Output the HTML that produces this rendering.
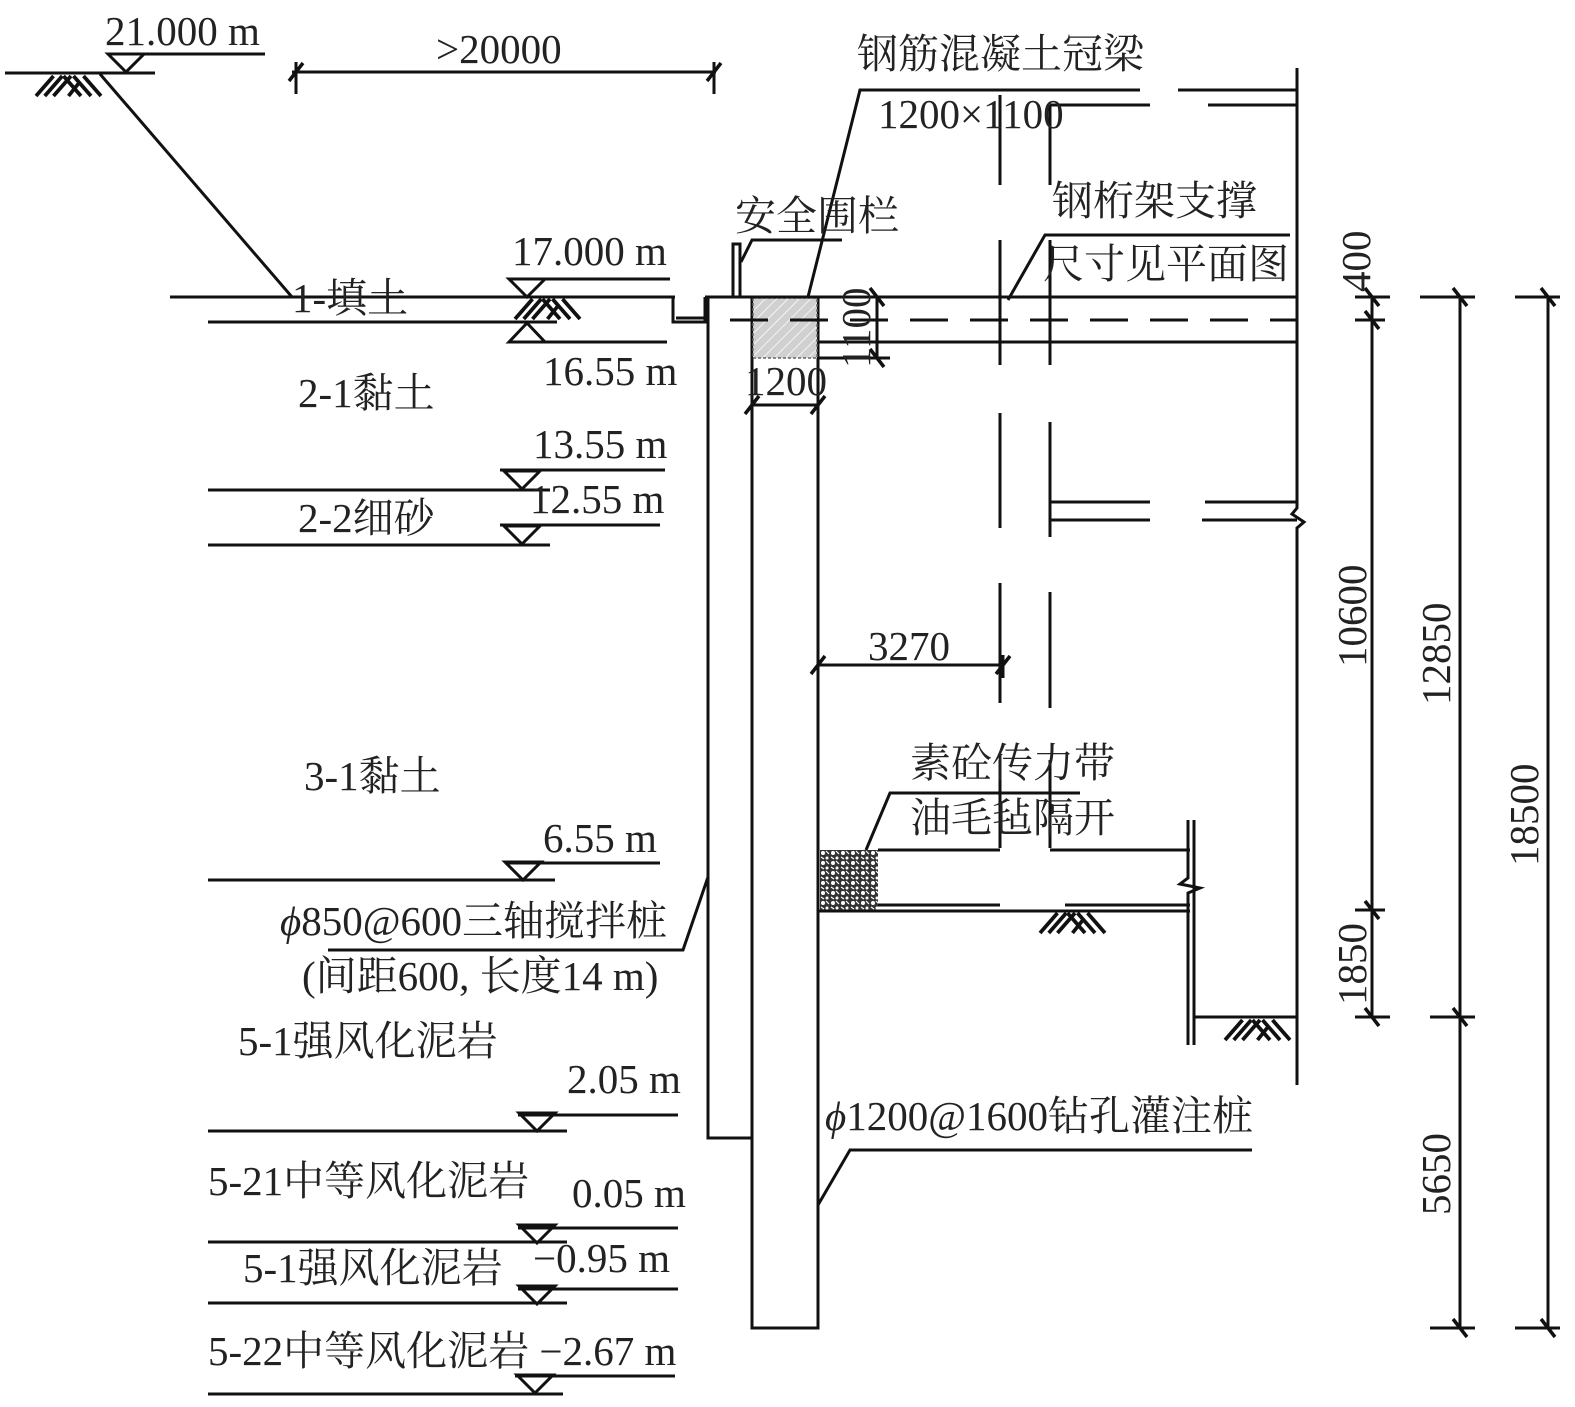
<!DOCTYPE html>
<html><head><meta charset="utf-8"><style>
html,body{margin:0;padding:0;background:#fff}
svg{display:block}
text{font-family:"Liberation Serif","Noto Serif CJK SC","Noto Sans CJK SC",serif;font-size:41px;fill:#222}
</style></head><body>
<svg width="1575" height="1407" viewBox="0 0 1575 1407" xmlns="http://www.w3.org/2000/svg">
<defs>
<pattern id="hx" width="8" height="8" patternUnits="userSpaceOnUse" patternTransform="rotate(45)">
<rect width="8" height="8" fill="#d0d0d0"/><line x1="0" y1="0" x2="0" y2="8" stroke="#f4f4f4" stroke-width="2"/></pattern>
<pattern id="cc" width="10" height="10" patternUnits="userSpaceOnUse">
<rect width="10" height="10" fill="#333"/><circle cx="3" cy="3" r="2" fill="#fff"/><circle cx="7" cy="8" r="1.5" fill="#fff"/><path d="M6 1 L9 4 M1 7 L4 9" stroke="#fff" stroke-width="1.2"/></pattern>
<g id="tk"><line x1="-7" y1="9" x2="7" y2="-9" stroke="#111" stroke-width="3.5"/></g>
<g id="tv"><line x1="-7" y1="-9" x2="7" y2="9" stroke="#111" stroke-width="3.5"/></g>
<g id="hatch" stroke="#111" stroke-width="3" fill="none" transform="scale(1.25)"><path d="M0 16 L14 0 M7 16 L21 0 M14 16 L28 0 M22 0 L36 16 M30 0 L44 16 M38 0 L52 16 M26 16 L34 6"/></g>
<g id="tri" stroke="#111" stroke-width="3" fill="none"><path d="M-18 -18 L18 -18 L0 0 Z"/></g>
</defs>
<g stroke="#111" stroke-width="3" fill="none">
<line x1="5" y1="73" x2="155" y2="73"/>
<use href="#hatch" x="36" y="76"/>
<use href="#tri" x="126" y="72"/>
<line x1="108" y1="54" x2="265" y2="54"/>
<line x1="100" y1="74" x2="292" y2="297"/>
<line x1="292" y1="72" x2="716" y2="72"/>
<line x1="296" y1="62" x2="296" y2="94"/>
<line x1="714" y1="62" x2="714" y2="94"/>
<line x1="170" y1="297" x2="675" y2="297"/>
<line x1="208" y1="322" x2="557" y2="322"/>
<use href="#tri" x="527" y="297"/>
<line x1="509" y1="279" x2="670" y2="279"/>
<use href="#hatch" x="515" y="299"/>
<path d="M509 342 L545 342 L527 323 Z"/>
<line x1="509" y1="342" x2="667" y2="342"/>
<line x1="500" y1="470" x2="665" y2="470"/><use href="#tri" x="522" y="489"/>
<line x1="208" y1="490" x2="550" y2="490"/>
<line x1="500" y1="525" x2="660" y2="525"/><use href="#tri" x="522" y="544"/>
<line x1="208" y1="545" x2="550" y2="545"/>
<line x1="505" y1="863" x2="660" y2="863"/><use href="#tri" x="523" y="880"/>
<line x1="208" y1="880" x2="555" y2="880"/>
<line x1="518" y1="1115" x2="678" y2="1115"/><use href="#tri" x="537" y="1131"/>
<line x1="208" y1="1131" x2="567" y2="1131"/>
<line x1="518" y1="1228" x2="678" y2="1228"/><use href="#tri" x="537" y="1243"/>
<line x1="208" y1="1242" x2="567" y2="1242"/>
<line x1="518" y1="1289" x2="678" y2="1289"/><use href="#tri" x="537" y="1304"/>
<line x1="208" y1="1303" x2="567" y2="1303"/>
<line x1="515" y1="1376" x2="675" y2="1376"/><use href="#tri" x="535" y="1393"/>
<line x1="208" y1="1394" x2="563" y2="1394"/>
<path d="M673 297 L673 322 L705 322 L705 297"/>
<line x1="676" y1="318" x2="704" y2="318"/>
<path d="M708 297 L708 1138 L752 1138"/>
<rect x="752" y="297" width="66" height="1031"/>
</g>
<rect x="753" y="298" width="64" height="60" fill="url(#hx)" stroke="#666" stroke-width="1.5" stroke-dasharray="3 2"/>
<g stroke="#111" stroke-width="3" fill="none">
<path d="M733 297 L733 244 L740 244 L740 297"/>
<path d="M741 262 L752 240 L842 240"/>
<path d="M808 297 L860 90 L1140 90"/>
<line x1="705" y1="297" x2="1297" y2="297"/>
<line x1="730" y1="320" x2="1297" y2="320" stroke-dasharray="38 22"/>
<line x1="818" y1="342" x2="1297" y2="342"/>
<line x1="752" y1="405" x2="818" y2="405"/>
<line x1="752" y1="360" x2="752" y2="420"/>
<line x1="877" y1="297" x2="877" y2="358"/>
<line x1="818" y1="358" x2="890" y2="358"/>
<line x1="865" y1="297" x2="890" y2="297"/>
<line x1="1178" y1="90" x2="1297" y2="90"/>
<line x1="1050" y1="105" x2="1150" y2="105"/>
<line x1="1208" y1="105" x2="1297" y2="105"/>
<path d="M1297 68 L1297 508 L1292 514 L1304 522 L1297 528 L1297 1085"/>
<path d="M1000 95 V185 M1000 240 V365 M1000 413 V528 M1000 583 V703 M1000 760 V848"/>
<path d="M1050 105 V185 M1050 240 V365 M1050 422 V537 M1050 592 V708 M1050 760 V848"/>
<line x1="1050" y1="502" x2="1150" y2="502"/><line x1="1050" y1="520" x2="1150" y2="520"/>
<line x1="1205" y1="502" x2="1297" y2="502"/><line x1="1202" y1="520" x2="1297" y2="520"/>
<path d="M1008 300 L1045 235 L1290 235"/>
<line x1="818" y1="665" x2="1003" y2="665"/>
<line x1="1003" y1="655" x2="1003" y2="678"/>
<path d="M866 850 L890 793 L1080 793"/>
<line x1="878" y1="850" x2="1000" y2="850"/>
<line x1="1050" y1="850" x2="1190" y2="850"/>
<line x1="878" y1="905" x2="1000" y2="905"/>
<line x1="1065" y1="905" x2="1190" y2="905"/>
<line x1="818" y1="911" x2="1190" y2="911"/>
<use href="#hatch" x="1040" y="913"/>
<path d="M1188 820 V878 L1180 884 L1200 888 L1188 893 V1045"/>
<line x1="1194" y1="820" x2="1194" y2="1045"/>
<line x1="1194" y1="1017" x2="1297" y2="1017"/>
<use href="#hatch" x="1225" y="1020"/>
<path d="M818 1205 L850 1150 L1252 1150"/>
<path d="M708 877 L683 950 L328 950"/>
<line x1="1372" y1="297" x2="1372" y2="1017"/>
<line x1="1460" y1="297" x2="1460" y2="1328"/>
<line x1="1548" y1="297" x2="1548" y2="1328"/>
<path d="M1355 297 H1390 M1420 297 H1475 M1515 297 H1560 M1355 320 H1385 M1355 910 H1385 M1355 1017 H1390 M1430 1017 H1475 M1430 1328 H1475 M1515 1328 H1560"/>
</g>
<rect x="820" y="850" width="58" height="60" fill="url(#cc)"/>
<use href="#tk" x="296" y="72"/><use href="#tk" x="714" y="72"/>
<use href="#tk" x="752" y="405"/><use href="#tk" x="818" y="405"/>
<use href="#tk" x="818" y="665"/><use href="#tk" x="1003" y="665"/>
<use href="#tv" x="877" y="297"/><use href="#tv" x="877" y="358"/>
<use href="#tv" x="1372" y="297"/><use href="#tv" x="1372" y="320"/><use href="#tv" x="1372" y="910"/><use href="#tv" x="1372" y="1017"/>
<use href="#tv" x="1460" y="297"/><use href="#tv" x="1460" y="1017"/><use href="#tv" x="1460" y="1328"/>
<use href="#tv" x="1548" y="297"/><use href="#tv" x="1548" y="1328"/>
<text x="105" y="45">21.000 m</text>
<text x="436" y="63">&gt;20000</text>
<text x="857" y="68">钢筋混凝土冠梁</text>
<text x="878" y="128">1200×1100</text>
<text x="1052" y="215">钢桁架支撑</text>
<text x="735" y="230">安全围栏</text>
<text x="1043" y="278">尺寸见平面图</text>
<text x="512" y="265">17.000 m</text>
<text x="292" y="312">1-填土</text>
<text x="543" y="385">16.55 m</text>
<text x="745" y="395">1200</text>
<text x="298" y="407">2-1黏土</text>
<text x="533" y="458">13.55 m</text>
<text x="530" y="513">12.55 m</text>
<text x="298" y="532">2-2细砂</text>
<text x="868" y="660">3270</text>
<text x="304" y="790">3-1黏土</text>
<text x="910" y="777">素砼传力带</text>
<text x="910" y="832">油毛毡隔开</text>
<text x="543" y="852">6.55 m</text>
<text x="280" y="935"><tspan font-style="italic">ϕ</tspan>850@600三轴搅拌桩</text>
<text x="302" y="990">(间距600, 长度14 m)</text>
<text x="238" y="1055">5-1强风化泥岩</text>
<text x="567" y="1093">2.05 m</text>
<text x="825" y="1130"><tspan font-style="italic">ϕ</tspan>1200@1600钻孔灌注桩</text>
<text x="208" y="1195">5-21中等风化泥岩</text>
<text x="572" y="1207">0.05 m</text>
<text x="533" y="1272">−0.95 m</text>
<text x="243" y="1282">5-1强风化泥岩</text>
<text x="208" y="1365">5-22中等风化泥岩 −2.67 m</text>
<text transform="translate(870,368) rotate(-90)">1100</text>
<text transform="translate(1370,292) rotate(-90)">400</text>
<text transform="translate(1366,667) rotate(-90)">10600</text>
<text transform="translate(1366,1005) rotate(-90)">1850</text>
<text transform="translate(1450,705) rotate(-90)">12850</text>
<text transform="translate(1450,1215) rotate(-90)">5650</text>
<text transform="translate(1538,866) rotate(-90)">18500</text>
</svg>
</body></html>
